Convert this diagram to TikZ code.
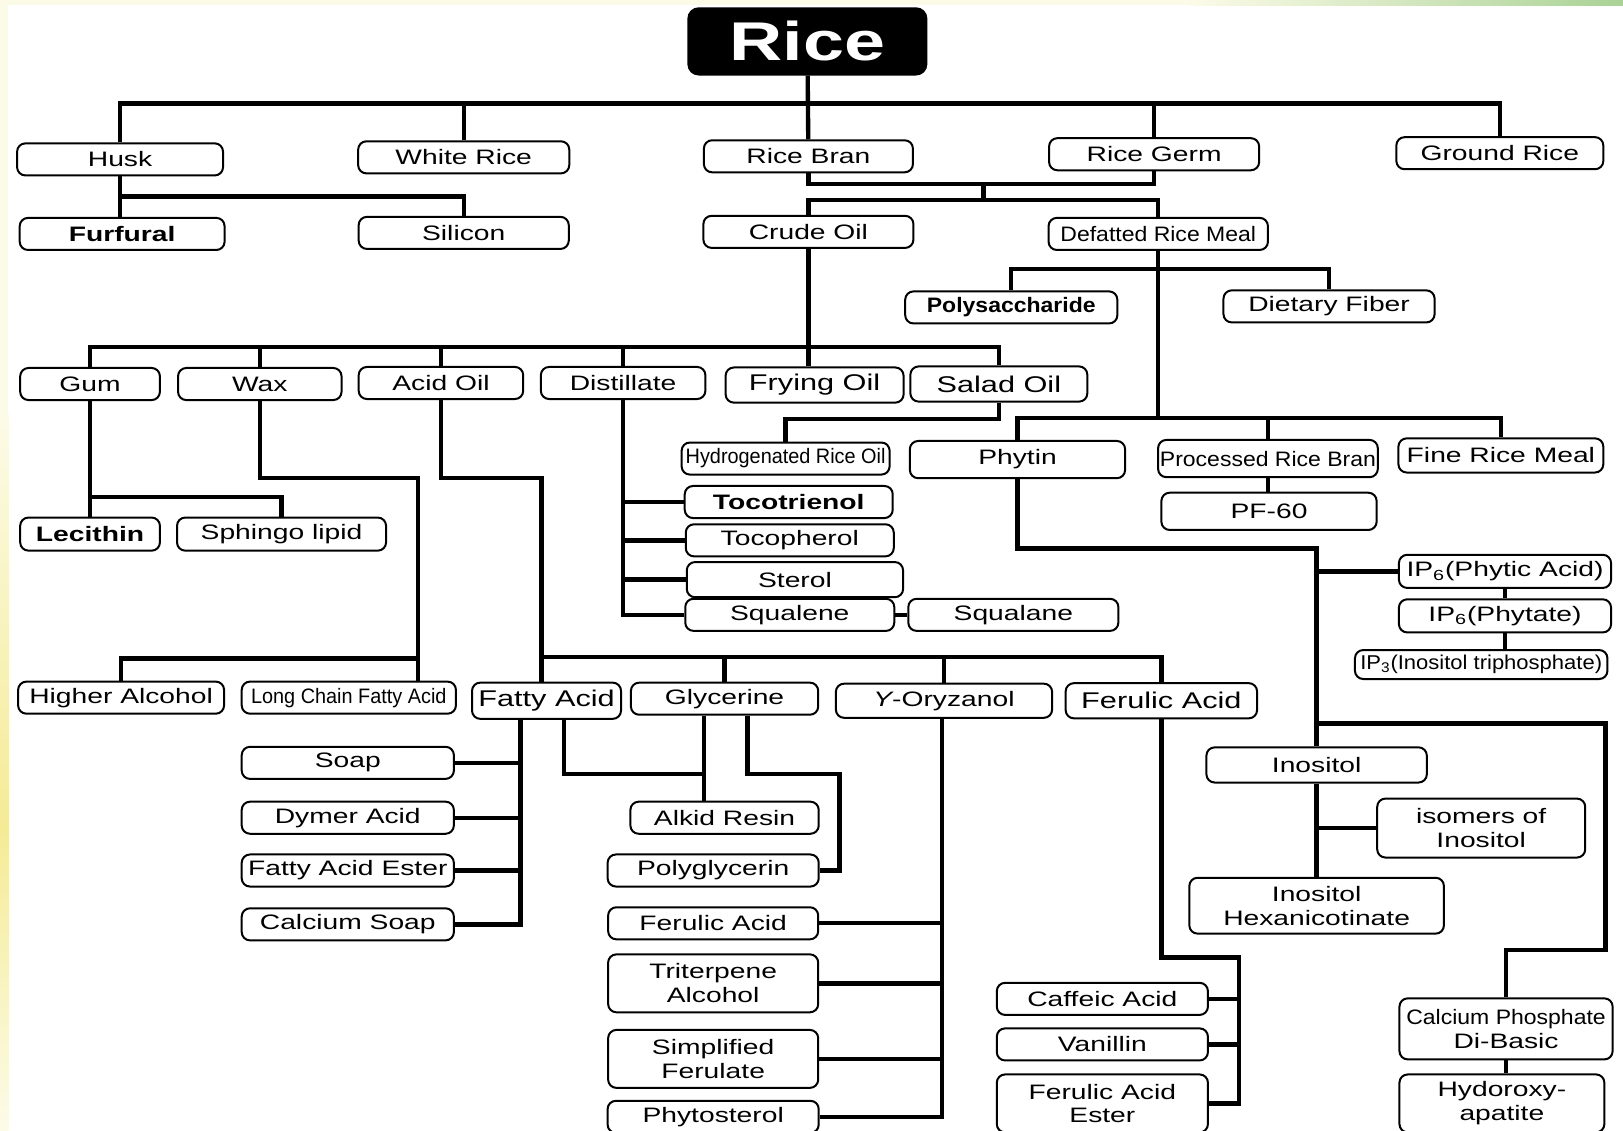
\documentclass[tikz,border=0pt]{standalone}
\usepackage{fontspec}
\setmainfont[FakeStretch=1.35]{Liberation Sans}
\newfontfamily\narrowA[FakeStretch=0.95]{Liberation Sans}
\newfontfamily\narrowB[FakeStretch=1.1]{Liberation Sans}
\definecolor{cream}{RGB}{252,251,232}
\definecolor{leafgreen}{RGB}{170,210,150}
\definecolor{strawyellow}{RGB}{245,235,150}

\begin{document}
\begin{tikzpicture}[x=0.02cm,y=-0.02cm,
  font=\fontsize{11.5}{13}\selectfont,
  box/.style={draw, rounded corners=0.16cm, line width=1.1pt, minimum width=#1, minimum height=0.62cm, inner sep=1pt, align=center},
  tall/.style={minimum height=#1},
  big/.style={font=\fontsize{12.5}{14}\selectfont},
  link/.style={line width=2.4pt}]

% page and its coloured edges
\useasboundingbox (0,0) rectangle (1568,1092);
\fill[cream] (0,0) rectangle (1568,1092);
\fill[white] (8,5) rectangle (1568,1092);
\shade[left color=cream, right color=leafgreen] (1150,0) rectangle (1568,5);
\shade[top color=cream, bottom color=strawyellow] (0,400) rectangle (8,800);
\shade[top color=strawyellow, bottom color=cream] (0,800) rectangle (8,1092);

% root and first level
\node[box=4.6cm, tall=1.28cm, fill=black, text=white, rounded corners=0.2cm, font=\fontsize{30}{34}\selectfont\bfseries] (rice) at (780,40) {Rice};

\node[box=3.98cm] (husk) at (116,154) {Husk};
\node[box=4.08cm] (whiterice) at (448,152) {White Rice};
\node[box=4.04cm] (bran) at (781,151) {Rice Bran};
\node[box=4.06cm] (germ) at (1115,149) {Rice Germ};
\node[box=4.0cm] (ground) at (1449,148) {Ground Rice};

\node[box=3.96cm] (furfural) at (118,226) {\bfseries Furfural};
\node[box=4.06cm] (silicon) at (448,225) {Silicon};
\node[box=4.06cm] (crude) at (781,224) {Crude Oil};
\node[box=4.24cm] (defatted) at (1119,226) {\narrowB Defatted Rice Meal};

\node[box=4.1cm] (poly) at (977,297) {\narrowB\bfseries Polysaccharide};
\node[box=4.08cm] (fiber) at (1284,296) {Dietary Fiber};

% crude oil fractions
\node[box=2.7cm] (gum) at (87,371) {Gum};
\node[box=3.16cm] (wax) at (251,371) {Wax};
\node[box=3.18cm] (acidoil) at (426,370) {Acid Oil};
\node[box=3.18cm] (distillate) at (602,370) {Distillate};
\node[box=3.44cm, tall=0.68cm, big] (frying) at (787,372) {Frying Oil};
\node[box=3.42cm, tall=0.68cm, big] (salad) at (965,371) {Salad Oil};

\node[box=4.02cm] (hydro) at (759,443) {\narrowA Hydrogenated Rice Oil};
\node[box=4.16cm, tall=0.72cm] (phytin) at (983,444) {Phytin};
\node[box=4.2cm, tall=0.72cm] (processed) at (1225,443) {\narrowB Processed Rice Bran};
\node[box=3.96cm, tall=0.66cm] (fine) at (1450,440) {Fine Rice Meal};
\node[box=4.16cm, tall=0.72cm] (pf60) at (1226,494) {PF-60};

\node[box=4.02cm] (tocotrienol) at (762,485) {\bfseries Tocotrienol};
\node[box=4.02cm] (tocopherol) at (763,522) {Tocopherol};
\node[box=4.18cm, tall=0.68cm] (sterol) at (768,560) {Sterol};
\node[box=4.04cm] (squalene) at (763,594) {Squalene};
\node[box=4.06cm] (squalane) at (979,594) {Squalane};

\node[box=2.7cm, tall=0.64cm] (lecithin) at (87,516) {\bfseries Lecithin};
\node[box=4.04cm, tall=0.64cm] (sphingo) at (272,516) {Sphingo lipid};

\node[box=4.1cm, tall=0.64cm] (ip6acid) at (1454,552) {IP\textsubscript{6}(Phytic Acid)};
\node[box=4.1cm, tall=0.64cm] (ip6phytate) at (1454,595) {IP\textsubscript{6}(Phytate)};
\node[box=4.88cm, tall=0.56cm] (ip3) at (1431,642) {\narrowB\fontsize{11}{13}\selectfont IP\textsubscript{3}(Inositol triphosphate)};

% third level
\node[box=3.98cm] (higher) at (117,674) {Higher Alcohol};
\node[box=4.14cm] (longchain) at (337,674) {\narrowA Long Chain Fatty Acid};
\node[box=2.88cm, tall=0.7cm, big] (fatty) at (528,677) {Fatty Acid};
\node[box=3.62cm] (glycerine) at (700,675) {Glycerine};
\node[box=4.18cm, tall=0.66cm] (oryzanol) at (912,677) {{\itshape Y}-Oryzanol};
\node[box=3.7cm, tall=0.68cm, big] (ferulic) at (1122,677) {Ferulic Acid};

\node[box=4.1cm] (soap) at (336,737) {Soap};
\node[box=4.1cm] (dymer) at (336,790) {Dymer Acid};
\node[box=4.1cm] (faester) at (336,841) {Fatty Acid Ester};
\node[box=4.1cm] (casoap) at (336,893) {Calcium Soap};

\node[box=3.64cm] (alkid) at (700,790) {Alkid Resin};
\node[box=4.08cm] (polyglyc) at (689,841) {Polyglycerin};

\node[box=4.06cm] (ferulicb) at (689,892) {Ferulic Acid};
\node[box=4.06cm, tall=1.12cm] (triterpene) at (689,950) {Triterpene\\Alcohol};
\node[box=4.06cm, tall=1.12cm] (simplified) at (689,1023) {Simplified\\Ferulate};
\node[box=4.08cm] (phytosterol) at (689,1079) {Phytosterol};

\node[box=4.26cm, tall=0.68cm] (inositol) at (1272,739) {Inositol};
\node[box=4.02cm, tall=1.14cm] (isomers) at (1431,800) {isomers of\\Inositol};
\node[box=4.92cm, tall=1.08cm] (hexanic) at (1272,875) {Inositol\\Hexanicotinate};

\node[box=4.08cm] (caffeic) at (1065,965) {Caffeic Acid};
\node[box=4.08cm] (vanillin) at (1065,1009) {Vanillin};
\node[box=4.08cm, tall=1.12cm] (faesterb) at (1065,1066) {Ferulic Acid\\Ester};

\node[box=4.12cm, tall=1.18cm] (calcium) at (1455,994) {{\narrowB Calcium Phosphate}\\Di-Basic};
\node[box=3.96cm, tall=1.12cm] (hydroxy) at (1451,1066) {Hydoroxy-\\apatite};

% junction points of the buses
\coordinate (rb) at (780,100);
\coordinate (hk) at (448,190);
\coordinate (bg) at (950,178);
\coordinate (co) at (950,193);
\coordinate (oil) at (781,335);
\coordinate (df) at (1119,260);
\coordinate (ph) at (1119,404);
\coordinate (gm) at (272,480);
\coordinate (wx) at (404,462);
\coordinate (hl) at (404,636);
\coordinate (ao) at (523,462);
\coordinate (fa) at (523,635);
\coordinate (fs) at (503,893);
\coordinate (fg) at (545,748);
\coordinate (gl) at (680,748);
\coordinate (gp) at (722,748);
\coordinate (gq) at (811,748);
\coordinate (oz) at (910,1079);
\coordinate (fr) at (1197,925);
\coordinate (pa) at (1272,530);
\coordinate (pb) at (1272,699);
\coordinate (pc) at (1551,699);
\coordinate (pd) at (1551,918);

% rice and its parts
\draw[link] (rice) -- (bran);
\draw[link] (husk.north) |- (rb) -| (ground.north);
\foreach \n in {whiterice,germ}
  \draw[link] (\n.north) -- (\n.north |- rb);
\draw[link] (husk.south) -- (husk.south |- furfural.north);
\draw[link] (husk.south |- hk) -| (silicon.north);
\draw[link] (bran.south) |- (bg) -| (germ.south);
\draw[link] (bg) -- (co);
\draw[link] (crude.north) |- (co) -| (defatted.north);

% crude oil
\draw[link] (crude.south) -- (crude.south |- frying.north);
\draw[link] (gum.north) |- (oil) -| (salad.north);
\foreach \n in {wax,acidoil,distillate}
  \draw[link] (\n.north) -- (\n.north |- oil);
\draw[link] (salad.south) -- ++(0,16) -| (hydro.north);

% defatted rice meal
\draw[link] (defatted.south) -- (ph);
\draw[link] (poly.north) |- (df) -| (fiber.north);
\draw[link] (phytin.north) |- (ph) -| (fine.north);
\draw[link] (processed.north) -- (processed.north |- ph);
\draw[link] (processed.south) -- (processed.south |- pf60.north);

% distillate, gum, wax, acid oil
\draw[link] (distillate.south) |- (squalene.west);
\foreach \n in {tocotrienol,tocopherol,sterol}
  \draw[link] (\n.west) -- (\n.west -| distillate.south);
\draw[link] (squalene) -- (squalane);
\draw[link] (gum.south) -- (gum.south |- lecithin.north);
\draw[link] (gum.south |- gm) -| (sphingo.north);
\draw[link] (wax.south) |- (wx) -- (wx |- longchain.north);
\draw[link] (higher.north) |- (hl);
\draw[link] (acidoil.south) |- (ao) -- (ao |- fatty.north);
\draw[link] (fa) -| (ferulic.north);
\foreach \n in {glycerine,oryzanol}
  \draw[link] (\n.north) -- (\n.north |- fa);

% fatty acid and glycerine
\draw[link] (fatty.south -| fs) |- (casoap.east);
\foreach \n in {soap,dymer,faester}
  \draw[link] (\n.east) -- (\n.east -| fs);
\draw[link] (fatty.south -| fg) |- (gl);
\draw[link] (glycerine.south -| gl) -- (alkid.north -| gl);
\draw[link] (glycerine.south -| gp) |- (gq) |- (polyglyc.east);

% oryzanol and ferulic acid
\draw[link] (oryzanol.south -| oz) |- (phytosterol.east);
\foreach \n in {ferulicb,triterpene,simplified}
  \draw[link] (\n.east) -- (\n.east -| oz);
\draw[link] (ferulic.south) |- (fr) |- (faesterb.east);
\foreach \n in {caffeic,vanillin}
  \draw[link] (\n.east) -- (\n.east -| fr);

% phytin
\draw[link] (phytin.south) |- (pa) -- (pa |- inositol.north);
\draw[link] (pa |- ip6acid.west) -- (ip6acid.west);
\draw[link] (ip6acid) -- (ip6phytate);
\draw[link] (ip6phytate.south) -- (ip6phytate.south |- ip3.north);
\draw[link] (pb) -- (pc) -- (pd) -| (calcium.north);
\draw[link] (inositol) -- (hexanic);
\draw[link] (inositol.south |- isomers.west) -- (isomers.west);
\draw[link] (calcium.south) -- (calcium.south |- hydroxy.north);

\end{tikzpicture}
\end{document}
